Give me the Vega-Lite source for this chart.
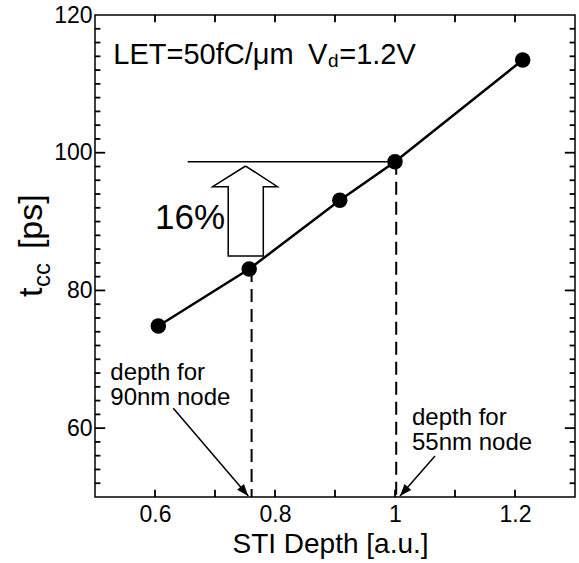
{
  "$schema": "https://vega.github.io/schema/vega-lite/v6.json",
  "width": 480,
  "height": 482,
  "autosize": {"type": "none"},
  "padding": {"left": 95, "top": 15, "right": 4, "bottom": 66},
  "background": "white",
  "config": {
    "view": {"stroke": "black", "strokeWidth": 1.5},
    "font": "Liberation Sans",
    "axis": {"grid": false, "domain": false, "ticks": false, "labelColor": "black", "labelFont": "Liberation Sans", "labelFontSize": 23, "titleFont": "Liberation Sans", "titleColor": "black", "titleFontWeight": "normal"},
    "text": {"font": "Liberation Sans", "color": "black"}
  },
  "datasets": {
    "tcc": [
      {"depth": 0.6055, "tcc": 74.84},
      {"depth": 0.757, "tcc": 83.11},
      {"depth": 0.908, "tcc": 93.1},
      {"depth": 1.0, "tcc": 98.7},
      {"depth": 1.2128, "tcc": 113.46}
    ],
    "xticks": [{"tickval": 0.6}, {"tickval": 0.7}, {"tickval": 0.8}, {"tickval": 0.9}, {"tickval": 1.0}, {"tickval": 1.1}, {"tickval": 1.2}],
    "ymajor": [{"tickval": 60}, {"tickval": 80}, {"tickval": 100}],
    "yminor": [{"tickval": 52}, {"tickval": 54}, {"tickval": 56}, {"tickval": 58}, {"tickval": 62}, {"tickval": 64}, {"tickval": 66}, {"tickval": 68}, {"tickval": 70}, {"tickval": 72}, {"tickval": 74}, {"tickval": 76}, {"tickval": 78}, {"tickval": 82}, {"tickval": 84}, {"tickval": 86}, {"tickval": 88}, {"tickval": 90}, {"tickval": 92}, {"tickval": 94}, {"tickval": 96}, {"tickval": 98}, {"tickval": 102}, {"tickval": 104}, {"tickval": 106}, {"tickval": 108}, {"tickval": 110}, {"tickval": 112}, {"tickval": 114}, {"tickval": 116}, {"tickval": 118}],
    "ref": [{"x": 0.6545, "x2": 1.0, "y": 98.7}],
    "dash": [{"x": 0.761, "y": 83.11}, {"x": 1.002, "y": 98.7}],
    "block": [
      {"order": 1, "x": 0.751, "y": 98.07},
      {"order": 2, "x": 0.804, "y": 95.07},
      {"order": 3, "x": 0.7805, "y": 95.07},
      {"order": 4, "x": 0.7805, "y": 85.0},
      {"order": 5, "x": 0.722, "y": 85.0},
      {"order": 6, "x": 0.722, "y": 95.07},
      {"order": 7, "x": 0.696, "y": 95.07},
      {"order": 8, "x": 0.751, "y": 98.07}
    ],
    "pointers": [
      {"name": "90nm", "x": 0.6305, "y": 62.88, "x2": 0.7555, "y2": 50.15},
      {"name": "55nm", "x": 1.0667, "y": 55.96, "x2": 1.0083, "y2": 50.15}
    ],
    "notes": [
      {"x": 0.5255, "y": 67.0, "text": "depth for"},
      {"x": 0.5255, "y": 63.36, "text": "90nm node"},
      {"x": 1.0283, "y": 60.46, "text": "depth for"},
      {"x": 1.0283, "y": 56.83, "text": "55nm node"}
    ],
    "pct": [{"x": 0.6, "y": 88.9, "text": "16%"}],
    "cond": [
      {"x": 0.5305, "y": 112.9, "text": "LET=50fC/μm"},
      {"x": 0.855, "y": 112.9, "text": "V"},
      {"x": 0.907, "y": 112.9, "text": "=1.2V"}
    ],
    "condsub": [{"x": 0.8883, "y": 112.5, "text": "d"}],
    "ytitle": [
      {"x": 0.4117, "y": 79.05, "text": "t"},
      {"x": 0.4117, "y": 86.0, "text": "[ps]"}
    ],
    "ytitlesub": [{"x": 0.425, "y": 80.5, "text": "cc"}]
  },
  "layer": [
    {
      "data": {"name": "tcc"},
      "mark": {"type": "line", "color": "black", "strokeWidth": 2.5},
      "encoding": {
        "x": {"field": "depth", "type": "quantitative", "scale": {"domain": [0.5, 1.3], "nice": false, "zero": false},
          "axis": {"orient": "bottom", "values": [0.6, 0.8, 1, 1.2], "format": "~g", "ticks": false, "labelPadding": 6, "labelBaseline": "top", "title": "STI Depth [a.u.]", "titleFontSize": 28, "titleBaseline": "alphabetic", "titleX": 235, "titleY": 55, "titleAnchor": "middle"}},
        "y": {"field": "tcc", "type": "quantitative", "scale": {"domain": [50, 120], "nice": false, "zero": false},
          "axis": {"orient": "left", "values": [60, 80, 100, 120], "format": "d", "ticks": false, "labelPadding": 3, "title": null}}
      }
    },
    {
      "data": {"name": "tcc"},
      "mark": {"type": "point", "filled": true, "color": "black", "opacity": 1, "size": 240},
      "encoding": {
        "x": {"field": "depth", "type": "quantitative"},
        "y": {"field": "tcc", "type": "quantitative"}
      }
    },
    {
      "data": {"name": "xticks"},
      "mark": {"type": "rule", "color": "black", "strokeWidth": 1.8},
      "encoding": {"x": {"field": "tickval", "type": "quantitative"}, "y": {"datum": 50}, "y2": {"datum": 51.05}}
    },
    {
      "data": {"name": "xticks"},
      "mark": {"type": "rule", "color": "black", "strokeWidth": 1.8},
      "encoding": {"x": {"field": "tickval", "type": "quantitative"}, "y": {"datum": 120}, "y2": {"datum": 118.95}}
    },
    {
      "data": {"name": "ymajor"},
      "mark": {"type": "rule", "color": "black", "strokeWidth": 1.8},
      "encoding": {"y": {"field": "tickval", "type": "quantitative"}, "x": {"datum": 0.5}, "x2": {"datum": 0.517}}
    },
    {
      "data": {"name": "ymajor"},
      "mark": {"type": "rule", "color": "black", "strokeWidth": 1.8},
      "encoding": {"y": {"field": "tickval", "type": "quantitative"}, "x": {"datum": 1.3}, "x2": {"datum": 1.283}}
    },
    {
      "data": {"name": "yminor"},
      "mark": {"type": "rule", "color": "black", "strokeWidth": 1.8},
      "encoding": {"y": {"field": "tickval", "type": "quantitative"}, "x": {"datum": 0.5}, "x2": {"datum": 0.509}}
    },
    {
      "data": {"name": "yminor"},
      "mark": {"type": "rule", "color": "black", "strokeWidth": 1.8},
      "encoding": {"y": {"field": "tickval", "type": "quantitative"}, "x": {"datum": 1.3}, "x2": {"datum": 1.291}}
    },
    {
      "data": {"name": "ref"},
      "mark": {"type": "rule", "color": "black", "strokeWidth": 1.5},
      "encoding": {
        "x": {"field": "x", "type": "quantitative"},
        "x2": {"field": "x2"},
        "y": {"field": "y", "type": "quantitative"}
      }
    },
    {
      "data": {"name": "dash"},
      "mark": {"type": "rule", "color": "black", "strokeWidth": 2, "strokeDash": [13, 7]},
      "encoding": {
        "x": {"field": "x", "type": "quantitative"},
        "y": {"field": "y", "type": "quantitative"},
        "y2": {"datum": 50}
      }
    },
    {
      "data": {"name": "block"},
      "mark": {"type": "line", "color": "black", "strokeWidth": 1.5, "strokeJoin": "miter"},
      "encoding": {
        "x": {"field": "x", "type": "quantitative"},
        "y": {"field": "y", "type": "quantitative"},
        "order": {"field": "order", "type": "quantitative"}
      }
    },
    {
      "data": {"name": "pointers"},
      "mark": {"type": "rule", "color": "black", "strokeWidth": 1.5},
      "encoding": {
        "x": {"field": "x", "type": "quantitative"},
        "y": {"field": "y", "type": "quantitative"},
        "x2": {"field": "x2"},
        "y2": {"field": "y2"}
      }
    },
    {
      "data": {"name": "pointers"},
      "transform": [{"filter": "datum.name === '90nm'"}],
      "mark": {"type": "point", "filled": true, "color": "black", "opacity": 1, "size": 144, "shape": "M0,0L0.75,2L-0.75,2Z", "angle": 139.5},
      "encoding": {
        "x": {"field": "x2", "type": "quantitative"},
        "y": {"field": "y2", "type": "quantitative"}
      }
    },
    {
      "data": {"name": "pointers"},
      "transform": [{"filter": "datum.name === '55nm'"}],
      "mark": {"type": "point", "filled": true, "color": "black", "opacity": 1, "size": 144, "shape": "M0,0L0.75,2L-0.75,2Z", "angle": 221.2},
      "encoding": {
        "x": {"field": "x2", "type": "quantitative"},
        "y": {"field": "y2", "type": "quantitative"}
      }
    },
    {
      "data": {"name": "notes"},
      "mark": {"type": "text", "fontSize": 24, "align": "left", "baseline": "alphabetic", "color": "black"},
      "encoding": {
        "x": {"field": "x", "type": "quantitative"},
        "y": {"field": "y", "type": "quantitative"},
        "text": {"field": "text"}
      }
    },
    {
      "data": {"name": "pct"},
      "mark": {"type": "text", "fontSize": 35, "align": "left", "baseline": "alphabetic", "color": "black"},
      "encoding": {
        "x": {"field": "x", "type": "quantitative"},
        "y": {"field": "y", "type": "quantitative"},
        "text": {"field": "text"}
      }
    },
    {
      "data": {"name": "cond"},
      "mark": {"type": "text", "fontSize": 29, "align": "left", "baseline": "alphabetic", "color": "black"},
      "encoding": {
        "x": {"field": "x", "type": "quantitative"},
        "y": {"field": "y", "type": "quantitative"},
        "text": {"field": "text"}
      }
    },
    {
      "data": {"name": "condsub"},
      "mark": {"type": "text", "fontSize": 19, "align": "left", "baseline": "alphabetic", "color": "black"},
      "encoding": {
        "x": {"field": "x", "type": "quantitative"},
        "y": {"field": "y", "type": "quantitative"},
        "text": {"field": "text"}
      }
    },
    {
      "data": {"name": "ytitle"},
      "mark": {"type": "text", "fontSize": 34, "align": "left", "baseline": "alphabetic", "angle": 270, "color": "black"},
      "encoding": {
        "x": {"field": "x", "type": "quantitative"},
        "y": {"field": "y", "type": "quantitative"},
        "text": {"field": "text"}
      }
    },
    {
      "data": {"name": "ytitlesub"},
      "mark": {"type": "text", "fontSize": 24, "align": "left", "baseline": "alphabetic", "angle": 270, "color": "black"},
      "encoding": {
        "x": {"field": "x", "type": "quantitative"},
        "y": {"field": "y", "type": "quantitative"},
        "text": {"field": "text"}
      }
    }
  ]
}
